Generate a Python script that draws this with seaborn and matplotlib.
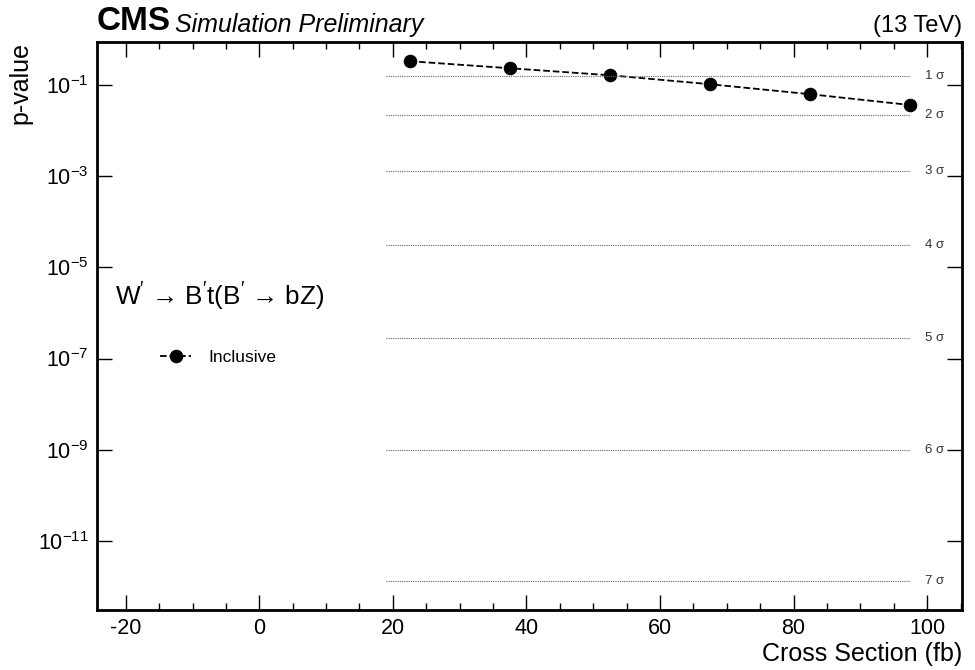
import numpy as np
import pandas as pd
import seaborn as sns
from matplotlib import pyplot as plt
from matplotlib.ticker import FixedLocator, MultipleLocator, NullLocator

# data
cross_section = [22.5, 37.5, 52.5, 67.5, 82.5, 97.5]
p_values = [0.34, 0.238, 0.167, 0.106, 0.064, 0.037]
sigma_levels = [1, 2, 3, 4, 5, 6, 7]
sigma_pvalues = [1.587e-1, 2.275e-2, 1.350e-3, 3.167e-5, 2.867e-7, 9.866e-10, 1.280e-12]
x_ticks = [-20, 0, 20, 40, 60, 80, 100]
y_ticks = [1e-1, 1e-3, 1e-5, 1e-7, 1e-9, 1e-11]

df = pd.DataFrame({"Cross Section (fb)": cross_section, "p-value": p_values})

sns.set_style("ticks")
plt.rcParams['font.family'] = ['Liberation Sans', 'DejaVu Sans']
plt.rcParams['mathtext.fontset'] = 'custom'
plt.rcParams['mathtext.rm'] = 'Liberation Sans'
plt.rcParams['mathtext.it'] = 'Liberation Sans:italic'
plt.rcParams['text.color'] = 'black'
plt.rcParams['axes.labelcolor'] = 'black'
plt.rcParams['xtick.color'] = 'black'
plt.rcParams['ytick.color'] = 'black'
plt.rcParams['axes.edgecolor'] = 'black'

fig = plt.figure(figsize=(9.75, 6.7), dpi=100)
ax = fig.add_axes([0.0995, 0.0896, 0.887, 0.8478])

sns.lineplot(data=df, x="Cross Section (fb)", y="p-value", ax=ax, color="black",
             linestyle="--", marker="o", markersize=9, markeredgecolor="black",
             linewidth=1.3, label="Inclusive")

# significance reference lines
ax.hlines(sigma_pvalues, 19, 97.5, colors="#666666", linestyles=(0, (1, 1)), linewidth=0.8)
for s, p in zip(sigma_levels, sigma_pvalues):
    ax.text(99.7, p, f"{s} σ", fontsize=9.5, color="#333333", va="center", ha="left")

ax.set_yscale("log")
ax.set_xlim(-24.3, 105.2)
ax.set_ylim(3e-13, 0.9)

ax.xaxis.set_major_locator(FixedLocator(x_ticks))
ax.xaxis.set_minor_locator(MultipleLocator(5))
ax.yaxis.set_major_locator(FixedLocator(y_ticks))
ax.yaxis.set_minor_locator(NullLocator())
ax.set_xticklabels([str(t) for t in x_ticks])

ax.tick_params(which="both", direction="in", top=True, right=True, labelsize=15.5, pad=6)
ax.tick_params(which="major", length=11, width=1)
ax.tick_params(which="minor", length=5, width=1)
for sp in ax.spines.values():
    sp.set_linewidth(2)

ax.set_xlabel("Cross Section (fb)", fontsize=18, loc="right", labelpad=2)
ax.set_ylabel("p-value", fontsize=18, loc="top")

ax.legend(loc="center left", bbox_to_anchor=(0.073, 0.444), borderaxespad=0, borderpad=0,
          frameon=False, fontsize=12.5, handlelength=1.8, handletextpad=1.0)

ax.text(0.021, 0.551, "W$^{\\prime}$ → B$^{\\prime}$t(B$^{\\prime}$ → bZ)",
        transform=ax.transAxes, fontsize=18.8, va="center", ha="left")

ax.text(0.0, 1.008, "CMS", transform=ax.transAxes, fontsize=24, fontweight="bold",
        va="bottom", ha="left")
ax.text(0.09, 1.008, "Simulation Preliminary", transform=ax.transAxes, fontsize=18,
        style="italic", va="bottom", ha="left")
ax.text(1.0, 1.008, "(13 TeV)", transform=ax.transAxes, fontsize=17,
        va="bottom", ha="right")

fig.savefig("out.png", dpi=100)
